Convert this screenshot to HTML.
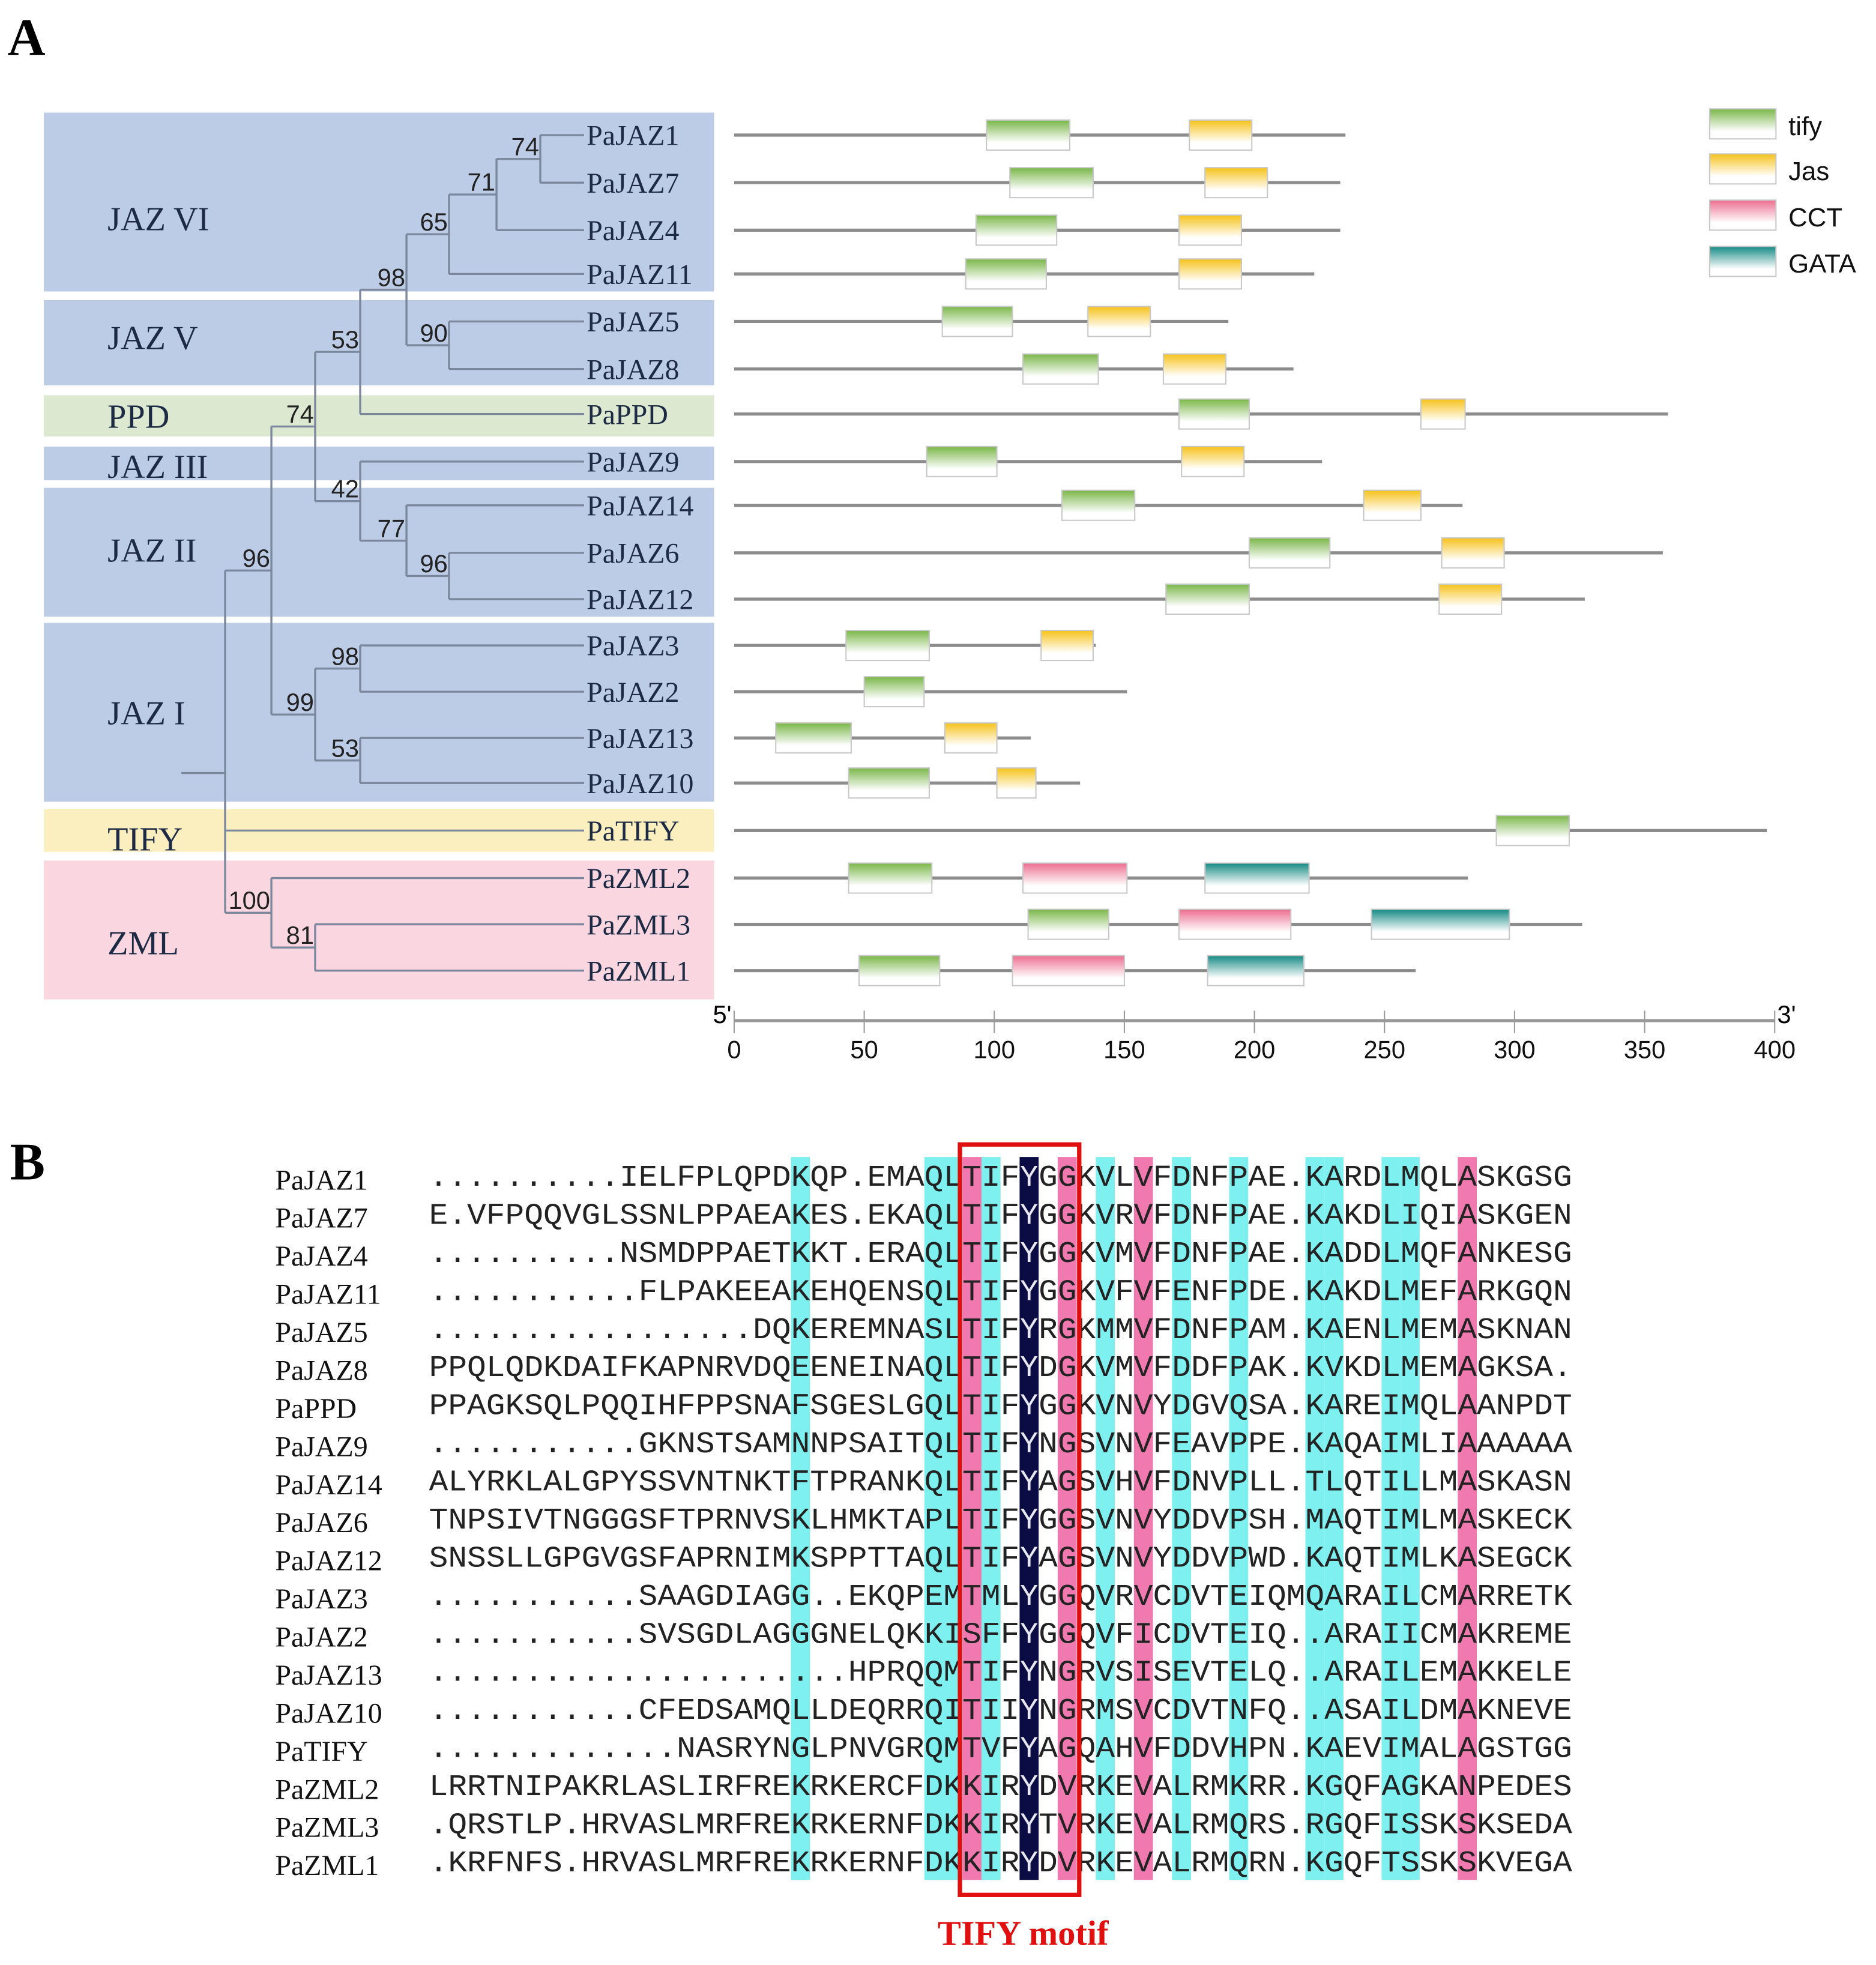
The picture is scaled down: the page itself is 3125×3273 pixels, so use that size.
<!DOCTYPE html>
<html><head><meta charset="utf-8"><title>JAZ phylogeny, domains and alignment</title>
<style>html,body{margin:0;padding:0;background:#fff}svg{display:block}</style></head>
<body>
<svg id="fig" xmlns="http://www.w3.org/2000/svg" width="3125" height="3273" viewBox="0 0 1500 1571">
<defs>
<linearGradient id="gTify" x1="0" y1="0" x2="0" y2="1"><stop offset="0" stop-color="#7ab648"/><stop offset="0.75" stop-color="#ffffff"/></linearGradient>
<linearGradient id="gJas" x1="0" y1="0" x2="0" y2="1"><stop offset="0" stop-color="#f6c21a"/><stop offset="0.75" stop-color="#ffffff"/></linearGradient>
<linearGradient id="gCCT" x1="0" y1="0" x2="0" y2="1"><stop offset="0" stop-color="#ec6e90"/><stop offset="0.75" stop-color="#ffffff"/></linearGradient>
<linearGradient id="gGATA" x1="0" y1="0" x2="0" y2="1"><stop offset="0" stop-color="#168a84"/><stop offset="0.75" stop-color="#ffffff"/></linearGradient>
</defs>
<text x="6" y="44" font-family="Liberation Serif, serif" font-weight="bold" font-size="42">A</text>
<text x="8" y="943" font-family="Liberation Serif, serif" font-weight="bold" font-size="42">B</text>
<g id="bands"></g><g id="tree"></g><g id="domains"></g><g id="legend"></g><g id="axis"></g><g id="align"></g>
</svg>
<script>
const NS='http://www.w3.org/2000/svg';
function mk(p,tag,attrs,txt){const e=document.createElementNS(NS,tag);for(const k in attrs)e.setAttribute(k,attrs[k]);if(txt!==undefined)e.textContent=txt;p.appendChild(e);return e;}
const genes=['PaJAZ1','PaJAZ7','PaJAZ4','PaJAZ11','PaJAZ5','PaJAZ8','PaPPD','PaJAZ9','PaJAZ14','PaJAZ6','PaJAZ12','PaJAZ3','PaJAZ2','PaJAZ13','PaJAZ10','PaTIFY','PaZML2','PaZML3','PaZML1'];
const leafY=[108,146,184,219,257,295,331,369,404,442,479,516,553,590,626,664,702,739,776];
const protLen=[235,233,233,223,190,215,359,226,280,357,327,139,151,114,133,397,282,326,262];
const tifyDom=[[97,129],[106,138],[93,124],[89,120],[80,107],[111,140],[171,198],[74,101],[126,154],[198,229],[166,198],[43,75],[50,73],[16,45],[44,75],[293,321],[44,76],[113,144],[48,79]];
const jasDom=[[175,199],[181,205],[171,195],[171,195],[136,160],[165,189],[264,281],[172,196],[242,264],[272,296],[271,295],[118,138],null,[81,101],[101,116],null,null,null,null];
const cctDom=[null,null,null,null,null,null,null,null,null,null,null,null,null,null,null,null,[111,151],[171,214],[107,150]];
const gataDom=[null,null,null,null,null,null,null,null,null,null,null,null,null,null,null,null,[181,221],[245,298],[182,219]];
const axisTicks=[0,50,100,150,200,250,300,350,400];
const X0=587,X1=1419,xs=v=>X0+(X1-X0)*v/400;

const bandsG=document.getElementById('bands');
const bands=[['JAZ VI',90,233,'#bccbe6',175],['JAZ V',240,308,'#bccbe6',270],['PPD',316,349,'#dce8d0',333],['JAZ III',357,384,'#bccbe6',373],['JAZ II',390,493,'#bccbe6',440],['JAZ I',498,641,'#bccbe6',570],['TIFY',647,681,'#fbefc0',671],['ZML',688,799,'#f9d6e0',754]];
bands.forEach(b=>{
 const r=mk(bandsG,'rect',{x:35,y:b[1],width:536,height:b[2]-b[1],fill:b[3]});
 
 
 const t=mk(bandsG,'text',{x:86,y:b[4]+9,'font-family':'Liberation Serif, serif','font-size':27,fill:'#1c2a44'},b[0]);
 
 
});

const treeG=document.getElementById('tree');
const L=i=>({leaf:i});
const N=(x,bs,...c)=>({x,bs,c});
const tree=N(180,'',N(217,'96',N(252,'74',N(288,'53',N(325,'98',N(359,'65',N(397,'71',N(432,'74',L(0),L(1)),L(2)),L(3)),N(359,'90',L(4),L(5))),L(6)),N(288,'42',L(7),N(325,'77',L(8),N(359,'96',L(9),L(10))))),N(252,'99',N(288,'98',L(11),L(12)),N(288,'53',L(13),L(14)))),L(15),N(217,'100',L(16),N(252,'81',L(17),L(18))));
const LEAFX=467;
function line(x1,y1,x2,y2){const l=mk(treeG,'line',{x1,y1,x2,y2,stroke:'#7a879c','stroke-width':1.6});}
function draw(n,px){
 if(n.leaf!==undefined){const y=leafY[n.leaf];line(px,y,LEAFX,y);
  const t=mk(treeG,'text',{x:469,y:y+8,'font-family':'Liberation Serif, serif','font-size':23,fill:'#1c2a44'},genes[n.leaf]);
  return y;}
 const ys=n.c.map(c=>draw(c,n.x));
 const y0=Math.min(...ys),y1=Math.max(...ys);line(n.x,y0,n.x,y1);
 const ym=(y0+y1)/2;
 if(px!==null)line(px,ym,n.x,ym);
 if(n.bs){const t=mk(treeG,'text',{x:n.x-1,y:ym-3,'text-anchor':'end','font-family':'Liberation Sans, sans-serif','font-size':20,fill:'#222'},n.bs);
  }
 return ym;
}
draw(tree,null);
line(145,618,180,618);

const domG=document.getElementById('domains');
function box(g,a,y,fill,name){const r=mk(g,'rect',{x:xs(a[0]),y:y-12,width:xs(a[1])-xs(a[0]),height:24,fill,stroke:'#c8c8c8','stroke-width':1});}
genes.forEach((g,i)=>{
 const y=leafY[i];
 const l=mk(domG,'line',{x1:xs(0),y1:y,x2:xs(protLen[i]),y2:y,stroke:'#8c8c8c','stroke-width':2.5});
 
 box(domG,tifyDom[i],y,'url(#gTify)','tify-domain');
 if(jasDom[i])box(domG,jasDom[i],y,'url(#gJas)','jas-domain');
 if(cctDom[i])box(domG,cctDom[i],y,'url(#gCCT)','cct-domain');
 if(gataDom[i])box(domG,gataDom[i],y,'url(#gGATA)','gata-domain');
});

const legG=document.getElementById('legend');
[['tify','url(#gTify)',99],['Jas','url(#gJas)',135],['CCT','url(#gCCT)',172],['GATA','url(#gGATA)',209]].forEach(e=>{
 const r=mk(legG,'rect',{x:1367,y:e[2]-12,width:53,height:24,fill:e[1],stroke:'#c8c8c8'});
 
 const t=mk(legG,'text',{x:1430,y:e[2]+9,'font-family':'Liberation Sans, sans-serif','font-size':21,fill:'#111'},e[0]);
 
});

const axG=document.getElementById('axis');
const ax=mk(axG,'line',{x1:xs(0),y1:816,x2:xs(400),y2:816,stroke:'#999','stroke-width':2.5});

axisTicks.forEach(v=>{
 const tk=mk(axG,'line',{x1:xs(v),y1:808,x2:xs(v),y2:826,stroke:'#999','stroke-width':1});
 
 const t=mk(axG,'text',{x:xs(v),y:846,'text-anchor':'middle','font-family':'Liberation Sans, sans-serif','font-size':20,fill:'#111'},String(v));
 
});
const p5=mk(axG,'text',{x:570,y:818,'font-family':'Liberation Sans, sans-serif','font-size':20},"5'");

const p3=mk(axG,'text',{x:1421,y:818,'font-family':'Liberation Sans, sans-serif','font-size':20},"3'");


const alG=document.getElementById('align');
const seqs=[
"..........IELFPLQPDKQP.EMAQLTIFYGGKVLVFDNFPAE.KARDLMQLASKGSG",
"E.VFPQQVGLSSNLPPAEAKES.EKAQLTIFYGGKVRVFDNFPAE.KAKDLIQIASKGEN",
"..........NSMDPPAETKKT.ERAQLTIFYGGKVMVFDNFPAE.KADDLMQFANKESG",
"...........FLPAKEEAKEHQENSQLTIFYGGKVFVFENFPDE.KAKDLMEFARKGQN",
".................DQKEREMNASLTIFYRGKMMVFDNFPAM.KAENLMEMASKNAN",
"PPQLQDKDAIFKAPNRVDQEENEINAQLTIFYDGKVMVFDDFPAK.KVKDLMEMAGKSA.",
"PPAGKSQLPQQIHFPPSNAFSGESLGQLTIFYGGKVNVYDGVQSA.KAREIMQLAANPDT",
"...........GKNSTSAMNNPSAITQLTIFYNGSVNVFEAVPPE.KAQAIMLIAAAAAA",
"ALYRKLALGPYSSVNTNKTFTPRANKQLTIFYAGSVHVFDNVPLL.TLQTILLMASKASN",
"TNPSIVTNGGGSFTPRNVSKLHMKTAPLTIFYGGSVNVYDDVPSH.MAQTIMLMASKECK",
"SNSSLLGPGVGSFAPRNIMKSPPTTAQLTIFYAGSVNVYDDVPWD.KAQTIMLKASEGCK",
"...........SAAGDIAGG..EKQPEMTMLYGGQVRVCDVTEIQMQARAILCMARRETK",
"...........SVSGDLAGGGNELQKKISFFYGGQVFICDVTEIQ..ARAIICMAKREME",
"......................HPRQQMTIFYNGRVSISEVTELQ..ARAILEMAKKELE",
"...........CFEDSAMQLLDEQRRQITIIYNGRMSVCDVTNFQ..ASAILDMAKNEVE",
".............NASRYNGLPNVGRQMTVFYAGQAHVFDDVHPN.KAEVIMALAGSTGG",
"LRRTNIPAKRLASLIRFREKRKERCFDKKIRYDVRKEVALRMKRR.KGQFAGKANPEDES",
".QRSTLP.HRVASLMRFREKRKERNFDKKIRYTVRKEVALRMQRS.RGQFISSKSKSEDA",
".KRFNFS.HRVASLMRFREKRKERNFDKKIRYDVRKEVALRMQRN.KGQFTSSKSKVEGA"];
const SX=343,SW=914,NC=60,CW=SW/NC,Y0=948,DY=30.45;
const cyanCols=[19,26,27,29,35,39,42,46,47,50,51];
const pinkCols=[28,33,37,54];
cyanCols.forEach(c=>{const r=mk(alG,'rect',{x:SX+c*CW,y:925,width:CW,height:578,fill:'#7ff0f0'});});
pinkCols.forEach(c=>{const r=mk(alG,'rect',{x:SX+c*CW,y:925,width:CW,height:578,fill:'#f07ab0'});});
const yc=mk(alG,'rect',{x:SX+31*CW,y:925,width:CW,height:578,fill:'#0c0c44'});

seqs.forEach((s,i)=>{
 const y=Y0+i*DY;
 const n=mk(alG,'text',{x:220,y:y+3,'font-family':'Liberation Serif, serif','font-size':23,fill:'#111'},genes[i]);
 
 const t=mk(alG,'text',{x:SX,y:y,'font-family':'Liberation Mono, monospace','font-size':24,fill:'#222',textLength:SW,lengthAdjust:'spacingAndGlyphs'},s);
 
 const yy=mk(alG,'text',{x:SX+31.5*CW,y:y,'text-anchor':'middle','font-family':'Liberation Mono, monospace','font-size':24,fill:'#e8e8f4'},s[31]);
 
});
const box2=mk(alG,'rect',{x:SX+28*CW-2,y:915,width:6*CW+4,height:600,fill:'none',stroke:'#e01010','stroke-width':3.5});

const ml=mk(alG,'text',{x:818,y:1555,'text-anchor':'middle','font-family':'Liberation Serif, serif','font-weight':'bold','font-size':28,fill:'#e01010'},'TIFY motif');

</script>
</body></html>
